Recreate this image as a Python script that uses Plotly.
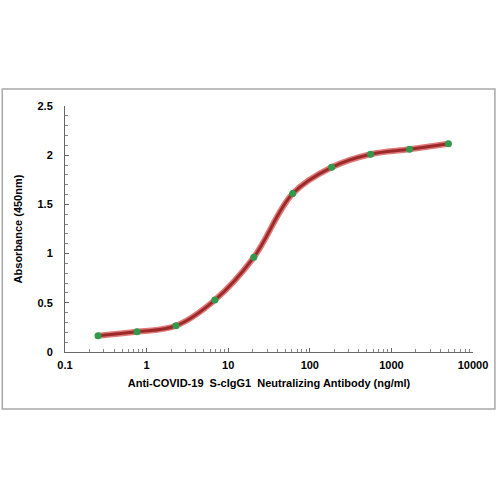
import plotly.graph_objects as go

conc = [0.254, 0.762, 2.29, 6.86, 20.6, 61.7, 185.2, 555.6, 1666.7, 5000]
absorb = [0.166, 0.206, 0.267, 0.528, 0.962, 1.61, 1.877, 2.01, 2.06, 2.117]

x_title = "Anti-COVID-19  S-cIgG1  Neutralizing Antibody (ng/ml)"
y_title = "Absorbance (450nm)"

font_fam = "Liberation Sans, Arial, sans-serif"

fig = go.Figure()
fig.add_trace(go.Scatter(x=conc, y=absorb, mode="lines", line=dict(color="#e07a78", width=6, shape="spline", smoothing=1.0),
                         hoverinfo="skip"))
fig.add_trace(go.Scatter(x=conc, y=absorb, mode="lines", line=dict(color="#9c2a2a", width=3, shape="spline", smoothing=1.0)))
fig.add_trace(go.Scatter(x=conc, y=absorb, mode="markers", marker=dict(color="#2f9a4c", size=7)))

axis_font = dict(family=font_fam, size=11, color="black", weight="bold")

fig.update_layout(
    width=500, height=500,
    margin=dict(l=65, r=25, t=106, b=148),
    paper_bgcolor="white", plot_bgcolor="white",
    showlegend=False,
    xaxis=dict(
        type="log", range=[-1, 4], dtick=1,
        tickvals=[0.1, 1, 10, 100, 1000, 10000],
        ticktext=["0.1", "1", "10", "100", "1000", "10000"],
        ticks="inside", ticklen=4, tickcolor="#666", tickwidth=1,
        minor=dict(ticks="inside", ticklen=3, tickcolor="#888", dtick="D1", showgrid=False),
        showline=True, linecolor="#666", linewidth=1,
        showgrid=False, zeroline=False,
        tickfont=axis_font,
        ticklabelstandoff=3,
        title=dict(text=x_title, font=axis_font, standoff=9),
    ),
    yaxis=dict(
        range=[0, 2.5], dtick=0.5,
        tickvals=[0, 0.5, 1, 1.5, 2, 2.5],
        ticktext=["0", "0.5", "1", "1.5", "2", "2.5"],
        ticks="inside", ticklen=4, tickcolor="#666", tickwidth=1,
        minor=dict(ticks="inside", ticklen=3, tickcolor="#888", dtick=0.1, showgrid=False),
        showline=True, linecolor="#666", linewidth=1,
        showgrid=False, zeroline=False,
        tickfont=axis_font,
        ticklabelstandoff=9,
        title=dict(text=y_title, font=axis_font, standoff=12),
    ),
    shapes=[dict(type="rect", xref="paper", yref="paper",
                 x0=-0.1537, x1=1.0537, y0=-0.2317, y1=1.069,
                 line=dict(color="#a8a8a8", width=1.5), fillcolor="rgba(0,0,0,0)")],
)

fig.write_html("out.html")
